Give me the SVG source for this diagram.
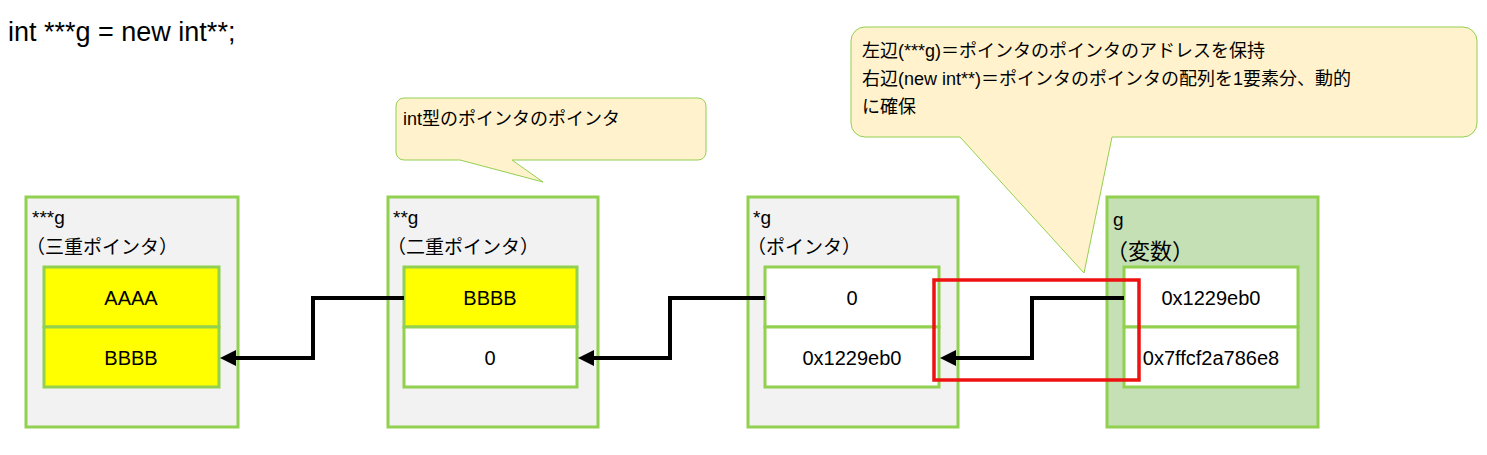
<svg xmlns="http://www.w3.org/2000/svg" width="1487" height="455" viewBox="0 0 1487 455">
<style>
text{font-family:"Liberation Sans","Noto Sans CJK JP",sans-serif;fill:#000}
.outer{fill:#f2f2f2;stroke:#92d050;stroke-width:3}
.cell{stroke:#92d050;stroke-width:3}
.y{fill:#ffff00}.w{fill:#fff}
.lbl{font-size:19px}
.v{font-size:20px;text-anchor:middle}
.call{fill:#fff2cc;stroke:#92d050;stroke-width:1}
.ct{font-size:18px}
.conn{fill:none;stroke:#000;stroke-width:4}
</style>
<defs><marker id="ah" markerWidth="4" markerHeight="4" refX="3" refY="2" orient="auto"><path d="M0,0L4,2L0,4z" fill="#000"/></marker></defs>
<text x="8" y="41" font-size="27">int ***g = new int**;</text>
<g id="callout1"><path class="call" d="M404,98H698a8,8 0 0 1 8,8V152a8,8 0 0 1 -8,8H512L543,182L460,160H404a8,8 0 0 1 -8,-8V106a8,8 0 0 1 8,-8z"/><text class="ct" x="403" y="125">int型のポインタのポインタ</text></g>
<g id="callout2"><path class="call" d="M865,27H1463a14,14 0 0 1 14,14V123a14,14 0 0 1 -14,14H1112L1084,273L960,137H865a14,14 0 0 1 -14,-14V41a14,14 0 0 1 14,-14z"/>
<text class="ct" x="862" y="57">左辺(***g)＝ポインタのポインタのアドレスを保持</text>
<text class="ct" x="862" y="85">右辺(new int**)＝ポインタのポインタの配列を1要素分、動的</text>
<text class="ct" x="862" y="113">に確保</text></g>
<g id="n1"><rect class="outer" x="26" y="197" width="212" height="230"/><text class="lbl" x="32" y="224">***g</text><text class="lbl" x="26" y="254">（三重ポインタ）</text>
<rect class="cell y" x="44" y="267" width="175" height="60"/><rect class="cell y" x="44" y="327" width="175" height="60"/>
<text class="v" x="131" y="305">AAAA</text><text class="v" x="131" y="365">BBBB</text></g>
<g id="n2"><rect class="outer" x="388" y="197" width="210" height="230"/><text class="lbl" x="393" y="224">**g</text><text class="lbl" x="387" y="254">（二重ポインタ）</text>
<rect class="cell y" x="404" y="267" width="173" height="60"/><rect class="cell w" x="404" y="327" width="173" height="60"/>
<text class="v" x="490" y="305">BBBB</text><text class="v" x="490" y="365">0</text></g>
<g id="n3"><rect class="outer" x="748" y="197" width="210" height="230"/><text class="lbl" x="753" y="224">*g</text><text class="lbl" x="747" y="254">（ポインタ）</text>
<rect class="cell w" x="765" y="267" width="174" height="60"/><rect class="cell w" x="765" y="327" width="174" height="60"/>
<text class="v" x="852" y="305">0</text><text class="v" x="852" y="365">0x1229eb0</text></g>
<g id="n4"><rect class="outer" style="fill:#c5e0b4" x="1107" y="197" width="211" height="230"/><text class="lbl" x="1113" y="226">g</text><text x="1106" y="259" font-size="22">（変数）</text>
<rect class="cell w" x="1124" y="267" width="174" height="60"/><rect class="cell w" x="1124" y="327" width="174" height="60"/>
<text class="v" x="1211" y="305">0x1229eb0</text><text class="v" x="1211" y="365" font-size="17">0x7ffcf2a786e8</text></g>
<g id="connectors">
<path class="conn" d="M404,298H313V358H224" marker-end="url(#ah)"/>
<path class="conn" d="M765,298H670V358H582" marker-end="url(#ah)"/>
<path class="conn" d="M1124,298H1032V358H944" marker-end="url(#ah)"/>
</g>
<rect x="934" y="280" width="205" height="100" fill="none" stroke="#ee1111" stroke-width="3.5"/>
</svg>
